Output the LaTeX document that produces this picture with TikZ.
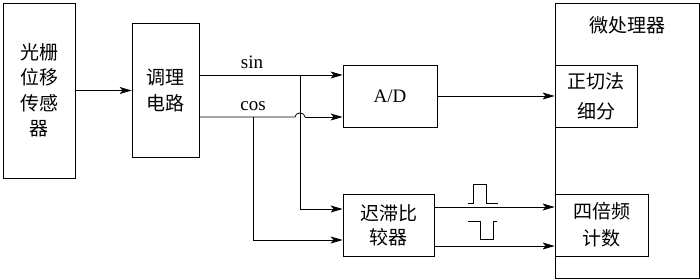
\documentclass[tikz,border=0pt]{standalone}
\usepackage{fontspec}
\setmainfont{Liberation Serif}
\newfontfamily\cjk{Noto Sans CJK SC}
\usetikzlibrary{arrows.meta, positioning}

\begin{document}
\begin{tikzpicture}[x=1pt, y=-1pt, line width=0.8pt,
        font=\fontsize{19}{25.5}\selectfont,
        blk/.style={draw, line width=0.8pt, align=center, inner sep=0pt, font=\cjk\fontsize{19}{25.5}\selectfont},
        >={Stealth[length=12pt, width=7pt, inset=3pt]}
    ]
        \useasboundingbox (0,0) rectangle (700,280);

        \node[blk, minimum width=72pt,  minimum height=175pt] (sensor) at (39,90.5)   {光栅\\位移\\传感\\器};
        \node[blk, minimum width=67pt,  minimum height=134pt] (cond)   at (165.5,90.5) {调理\\电路};
        \node[blk, minimum width=94pt,  minimum height=62pt, font=\fontsize{19}{25.5}\selectfont] (ad) at (390,96) {A/D};
        \node[blk, minimum width=91pt,  minimum height=62pt]  (hyst)   at (388.5,225) {迟滞比\\[-1.5pt]较器};
        \node[blk, minimum width=144pt, minimum height=275pt] (mcu)    at (627,140.5) {};
        \node[font=\cjk\fontsize{19}{25.5}\selectfont] (mcutxt) at (627,25) {微处理器};
        \node[blk, minimum width=82pt,  minimum height=62pt]  (tan)    at (596,96)    {正切法\\[4.5pt]细分};
        \node[blk, minimum width=93pt,  minimum height=62pt]  (quad)   at (601.5,225) {四倍频\\[1.5pt]计数};

        \node[anchor=base] (sinlbl) at (252,69)  {sin};
        \node[anchor=base] (coslbl) at (253,111) {cos};

        \coordinate (sinfork) at (300,75);
        \coordinate (cosfork) at (253,117);

        \draw[->] (sensor) -- (cond);
        \draw[->] (cond.east |- sinfork) -- (ad.west |- sinfork);
        \draw (cond.east |- cosfork) -- (cosfork) -- (295,117)
            arc[start angle=180, end angle=0, x radius=5pt, y radius=4pt];
        \draw[->] (305,117) -- (ad.west |- cosfork);
        \draw[->] (sinfork) |- (hyst.west |- 0,209);
        \draw[->] (cosfork) |- (hyst.west |- 0,240);
        \draw[->] (ad) -- (tan);
        \draw[->] (hyst.east |- 0,207) -- (quad.west |- 0,207);
        \draw[->] (hyst.east |- 0,246) -- (quad.west |- 0,246);

        % pulses
        \draw (468,203) -- (473,203) -- (473,184) -- (486,184) -- (486,203) -- (498,203);
        \draw (468,221) -- (480,221) -- (480,239) -- (493,239) -- (493,221) -- (497,221);
    \end{tikzpicture}
\end{document}
